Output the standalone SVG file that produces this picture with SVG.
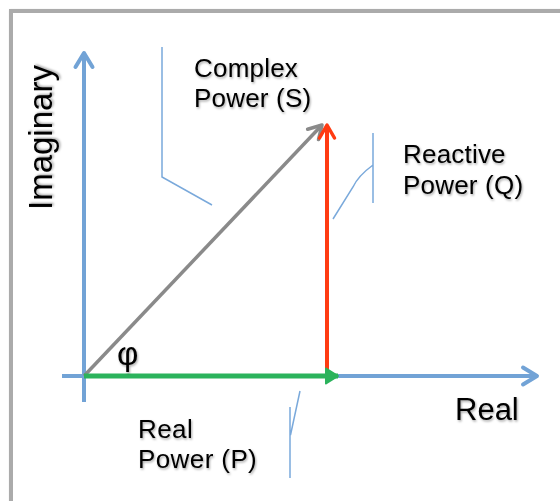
<svg xmlns="http://www.w3.org/2000/svg" width="560" height="501" viewBox="0 0 560 501">
  <defs>
    <style>
      .lbl { font-family: "Liberation Sans", Arial, sans-serif; fill: #000; filter: url(#shadow); }
      .lead { fill: none; stroke: #7aa9db; stroke-width: 1.5; }
      .axis { stroke: #72a3d6; stroke-width: 4; fill: none; }
    </style>
    <filter id="shadow" x="-10%" y="-20%" width="130%" height="150%">
      <feDropShadow dx="1" dy="1.5" stdDeviation="1" flood-color="#000" flood-opacity="0.35"/>
    </filter>
    <filter id="fshadow" x="-5%" y="-5%" width="110%" height="110%">
      <feDropShadow dx="1" dy="1" stdDeviation="1.2" flood-color="#000" flood-opacity="0.3"/>
    </filter>
    <marker id="hBlue" markerUnits="userSpaceOnUse" markerWidth="30" markerHeight="30" refX="0" refY="0" viewBox="-20 -15 30 30" orient="auto">
      <path d="M -14 -8.5 L 0 0 L -14 8.5" fill="none" stroke="#72a3d6" stroke-width="4" stroke-linecap="round" stroke-linejoin="round"/>
    </marker>
    <marker id="hRed" markerUnits="userSpaceOnUse" markerWidth="30" markerHeight="30" refX="0" refY="0" viewBox="-20 -15 30 30" orient="auto">
      <path d="M -13 -7.5 L 0 0 L -13 7.5" fill="none" stroke="#ff3b12" stroke-width="3.5" stroke-linecap="round" stroke-linejoin="round"/>
    </marker>
    <marker id="hGray" markerUnits="userSpaceOnUse" markerWidth="30" markerHeight="30" refX="0" refY="0" viewBox="-20 -15 30 30" orient="auto">
      <path d="M -13 -7.5 L 0 0 L -13 7.5" fill="none" stroke="#8a8a8a" stroke-width="3.5" stroke-linecap="round" stroke-linejoin="round"/>
    </marker>
    <marker id="hGreen" markerUnits="userSpaceOnUse" markerWidth="30" markerHeight="30" refX="0" refY="0" viewBox="-20 -15 30 30" orient="auto">
      <path d="M -12 -7.5 L 0 0 L -12 7.5 Z" fill="#2bb35c" stroke="#2bb35c" stroke-width="2" stroke-linejoin="round"/>
    </marker>
  </defs>

  <rect x="0" y="0" width="560" height="501" fill="#ffffff"/>
  <rect id="frame" x="11" y="11" width="560" height="500" fill="#ffffff" stroke="#ababab" stroke-width="4" filter="url(#fshadow)"/>

  <g id="connectors">
    <line id="axis-imag" class="axis" x1="84" y1="402" x2="84" y2="53" marker-end="url(#hBlue)"/>
    <line id="axis-real" class="axis" x1="62" y1="376" x2="537" y2="376" marker-end="url(#hBlue)"/>
    <line id="vec-S" x1="84" y1="376" x2="322" y2="125" stroke="#8a8a8a" stroke-width="3.5" marker-end="url(#hGray)"/>
    <line id="vec-Q" x1="327" y1="377" x2="327" y2="125" stroke="#ff3b12" stroke-width="4" marker-end="url(#hRed)"/>
    <line id="vec-P" x1="84" y1="376" x2="338" y2="376" stroke="#2bb35c" stroke-width="5" marker-end="url(#hGreen)"/>
    <path id="lead-S" class="lead" d="M 162 47 L 162 177 L 212 205"/>
    <path id="lead-Q" class="lead" d="M 373 133 L 373 203 M 373 165 Q 358 176 353 187 L 333 219"/>
    <path id="lead-P" class="lead" d="M 290 407 L 290 478 M 300 391 L 290.5 435"/>
  </g>

  <g id="label-imaginary">
    <text class="lbl" transform="translate(52 210) rotate(-90)" font-size="33">Imaginary</text>
  </g>
  <g id="label-real-axis">
    <text class="lbl" x="455" y="420" font-size="31">Real</text>
  </g>
  <g id="label-S">
    <text class="lbl" font-size="26" letter-spacing="0.2"><tspan x="194" y="77">Complex</tspan><tspan x="194" y="107">Power (S)</tspan></text>
  </g>
  <g id="label-Q">
    <text class="lbl" font-size="26" letter-spacing="0.2"><tspan x="403" y="163">Reactive</tspan><tspan x="403" y="194">Power (Q)</tspan></text>
  </g>
  <g id="label-P">
    <text class="lbl" font-size="26" letter-spacing="0.4"><tspan x="138" y="438">Real</tspan><tspan x="138" y="468">Power (P)</tspan></text>
  </g>
  <g id="label-phi">
    <text class="lbl" x="117" y="365" font-size="33">φ</text>
  </g>
</svg>
